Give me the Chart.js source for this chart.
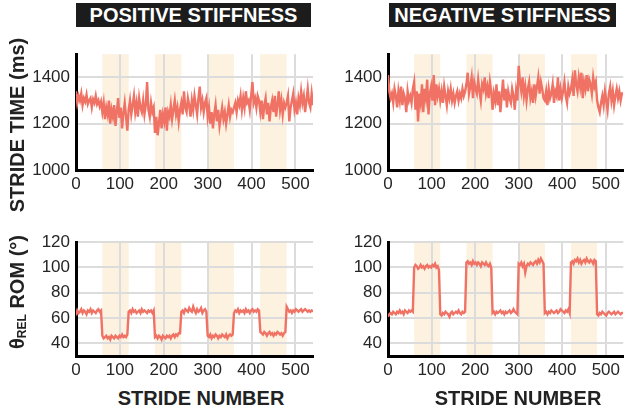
<!DOCTYPE html>
<html><head><meta charset="utf-8">
<script src="https://cdn.jsdelivr.net/npm/chart.js@4.4.1/dist/chart.umd.min.js"></script>
<style>
html,body{margin:0;padding:0;background:#fff;}
#wrap{position:relative;width:624px;height:413px;overflow:hidden;font-family:"Liberation Sans",Arial,Helvetica,sans-serif;}
canvas{position:absolute;}
.ttl{position:absolute;top:3px;height:24px;background:#1c1c1c;color:#fff;font-weight:bold;font-size:20px;line-height:25px;text-align:center;white-space:nowrap;}
.ylab{position:absolute;font-weight:bold;font-size:20px;color:#222;white-space:nowrap;transform:translate(-50%,-50%) rotate(-90deg);}
.ylab sub{font-size:12px;vertical-align:-2px;}
.xlab{position:absolute;font-weight:bold;font-size:20px;color:#222;white-space:nowrap;transform:translate(-50%,-50%);}
</style></head>
<body><div id="wrap">
<div class="ttl" style="left:76px;width:235px;">POSITIVE STIFFNESS</div>
<div class="ttl" style="left:389px;width:227px;">NEGATIVE STIFFNESS</div>
<canvas id="c1" width="318" height="160" style="left:0;top:38px"></canvas>
<canvas id="c2" width="312" height="160" style="left:312px;top:38px"></canvas>
<canvas id="c3" width="318" height="160" style="left:0;top:226px"></canvas>
<canvas id="c4" width="312" height="160" style="left:312px;top:226px"></canvas>
<div class="ylab" style="left:17px;top:125px;">STRIDE TIME (ms)</div>
<div class="ylab" style="left:17px;top:292px;">θ<sub>REL</sub> ROM (°)</div>
<div class="xlab" style="left:201px;top:398px;">STRIDE NUMBER</div>
<div class="xlab" style="left:518px;top:398px;">STRIDE NUMBER</div>
</div>
<script>
// sampling: one value every 3 strides, strides 0..540
const STEP = 3;
const stiffBlocks = [[60,120],[180,240],[300,360],[420,480]];
const xTicks = [0,100,200,300,400,500];

const strideTimePos = [
1340,1290,1320,1300,1330,1280,1310,1295,1325,1285,1300,1310,1270,1305,1290,1320,1285,1300,1275,1295,
1250,1290,1220,1270,1240,1300,1200,1260,1230,1280,1190,1250,1310,1225,1270,1180,1245,1290,1230,1170,
1260,1300,1240,1280,1320,1250,1290,1230,1310,1270,1250,1300,1240,1280,1380,1260,1230,1290,1250,1270,
1160,1230,1150,1200,1260,1180,1240,1210,1270,1170,1250,1230,1280,1220,1260,1300,1240,1270,1210,1260,
1290,1240,1340,1270,1250,1310,1280,1230,1300,1260,1320,1280,1240,1310,1360,1270,1300,1250,1290,1310,
1230,1270,1200,1250,1180,1240,1280,1210,1260,1190,1230,1270,1220,1250,1200,1240,1280,1230,1260,1250,
1270,1290,1250,1300,1280,1320,1260,1310,1270,1340,1290,1300,1260,1320,1380,1290,1310,1270,1320,1300,
1250,1300,1220,1280,1310,1240,1290,1210,1270,1300,1250,1320,1230,1280,1340,1260,1300,1240,1290,1270,
1290,1320,1210,1270,1300,1330,1260,1290,1240,1310,1280,1340,1290,1320,1250,1300,1350,1290,1270,1330,
1280];

const strideTimeNeg = [
1410,1340,1310,1330,1290,1350,1320,1270,1340,1300,1360,1280,1330,1310,1250,1340,1300,1320,1290,1350,
1380,1260,1340,1210,1330,1290,1370,1250,1350,1310,1390,1240,1330,1360,1300,1410,1280,1370,1320,1350,
1300,1340,1290,1360,1320,1280,1340,1310,1350,1300,1330,1290,1320,1340,1300,1330,1310,1350,1320,1340,
1370,1420,1330,1360,1400,1310,1380,1350,1330,1390,1340,1300,1370,1350,1400,1330,1360,1310,1380,1340,
1260,1330,1300,1370,1280,1340,1250,1320,1390,1300,1350,1270,1340,1310,1290,1350,1320,1260,1340,1300,
1450,1380,1340,1400,1320,1360,1300,1350,1380,1310,1340,1290,1370,1320,1360,1400,1330,1380,1350,1310,
1300,1340,1280,1350,1310,1330,1370,1290,1340,1320,1400,1300,1350,1310,1340,1380,1320,1290,1360,1330,
1350,1390,1320,1430,1370,1340,1400,1360,1420,1310,1380,1350,1410,1340,1390,1370,1330,1400,1360,1380,
1300,1270,1250,1290,1320,1280,1340,1300,1260,1330,1360,1300,1340,1280,1320,1350,1310,1340,1300,1330,
1330];

const romPos = [
62,66,64,65,67,64,66,65,63,66,65,67,64,66,65,64,66,67,65,66,
46,44,45,46,44,45,43,46,45,44,46,45,44,46,45,47,45,46,45,47,
65,66,64,67,65,66,64,65,66,64,67,65,66,65,64,66,65,66,64,66,
45,46,44,46,45,43,46,45,44,46,45,46,44,46,47,45,47,46,48,48,
65,66,64,67,66,65,68,66,65,69,66,64,67,65,66,68,64,66,67,65,
46,45,47,44,46,45,47,46,44,46,45,47,46,45,47,44,46,47,46,47,
64,66,65,67,64,66,65,66,64,67,65,66,64,66,67,65,66,65,67,66,
49,48,47,49,48,46,48,49,47,48,46,48,47,49,48,47,48,46,48,49,
69,67,65,66,64,66,65,67,66,65,66,67,65,66,67,66,65,66,65,66,
65];

const romNeg = [
61,63,64,63,65,64,63,65,64,66,64,65,63,66,65,64,66,65,66,65,
100,102,101,99,100,102,100,101,99,101,102,100,101,100,102,101,103,100,101,98,
63,62,64,63,65,64,63,61,64,65,63,64,65,64,66,64,63,65,64,65,
104,105,103,104,102,105,103,104,102,104,103,101,104,103,102,104,102,101,103,100,
64,65,63,65,64,65,66,64,65,63,65,64,65,66,64,65,67,65,64,63,
103,102,104,101,103,96,101,103,102,104,103,102,104,105,103,106,104,107,105,103,
64,65,63,65,64,66,65,64,65,66,64,65,67,66,65,64,66,65,67,64,
104,105,103,106,105,107,104,106,103,105,106,104,107,105,104,106,105,103,106,105,
63,62,64,63,65,64,63,62,64,65,64,63,64,65,63,64,65,64,63,64,
64];

const strides = strideTimePos.map((_, i) => i * STEP);

const LINE = 'rgb(240,114,100)';
const SHADE = 'rgb(253,241,224)';
const GRID = '#dcdcdc';
const TICK = '#262626';
const FAM = '"Liberation Sans", Arial, Helvetica, sans-serif';

const shadePlugin = {
  id: 'shade',
  beforeDraw(chart) {
    const {ctx, chartArea: a, scales: {x}} = chart;
    ctx.save();
    ctx.fillStyle = SHADE;
    stiffBlocks.forEach(([s, e]) => {
      const x0 = x.getPixelForValue(s), x1 = x.getPixelForValue(e);
      ctx.fillRect(x0, a.top, x1 - x0, a.bottom - a.top);
    });
    ctx.restore();
  }
};

function makeChart(id, ys, yMin, yMax, yStep, padTop, xH, padRight) {
  const pts = ys.map((v, i) => ({x: strides[i], y: v}));
  new Chart(document.getElementById(id), {
    type: 'line',
    data: {datasets: [{data: pts, borderColor: LINE, borderWidth: 2.4, pointRadius: 0, tension: 0, fill: false}]},
    options: {
      responsive: false, animation: false, devicePixelRatio: 1,
      layout: {padding: {top: padTop, right: padRight, left: 0, bottom: 0}},
      plugins: {legend: {display: false}, tooltip: {enabled: false}},
      scales: {
        x: {
          type: 'linear', min: 0, max: 540,
          afterFit(s) { s.height = xH; },
          afterBuildTicks(s) { s.ticks = xTicks.map(v => ({value: v})); },
          ticks: {font: {size: 17, family: FAM}, color: TICK, padding: 4, maxRotation: 0, autoSkip: false,
                  callback: v => String(v)},
          grid: {color: GRID, lineWidth: 2, drawTicks: false},
          border: {display: true, color: '#000', width: 3}
        },
        y: {
          min: yMin, max: yMax,
          afterFit(s) { s.width = 76; },
          ticks: {stepSize: yStep, includeBounds: false, font: {size: 17, family: FAM}, color: TICK, padding: 6,
                  callback: v => String(v)},
          grid: {color: GRID, lineWidth: 2, drawTicks: false},
          border: {display: true, color: '#000', width: 3}
        }
      }
    },
    plugins: [shadePlugin]
  });
}

makeChart('c1', strideTimePos, 1000, 1500, 200, 14, 28, 5);
makeChart('c2', strideTimeNeg, 1000, 1500, 200, 14, 28, 0);
makeChart('c3', romPos, 30, 120, 20, 16, 30, 5);
makeChart('c4', romNeg, 30, 120, 20, 16, 30, 0);
</script>
</body></html>
